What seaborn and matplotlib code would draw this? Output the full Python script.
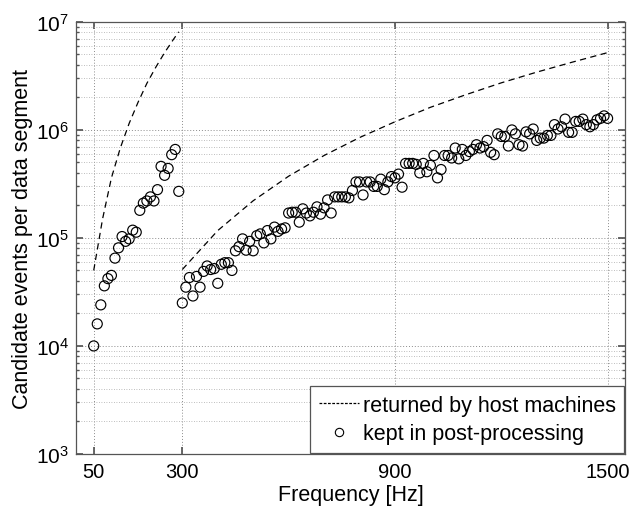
import numpy as np
import pandas as pd
import seaborn as sns
from matplotlib import pyplot as plt
from matplotlib.lines import Line2D
from matplotlib.ticker import LogLocator, FixedLocator, NullFormatter

sns.set_theme(style="ticks")
plt.rcParams['font.family'] = ['Liberation Sans', 'DejaVu Sans']
plt.rcParams['mathtext.fontset'] = 'custom'
plt.rcParams['mathtext.rm'] = 'Liberation Sans'
plt.rcParams['text.color'] = 'black'
plt.rcParams['axes.labelcolor'] = 'black'

# dashed curves: returned by host machines (two bands)
lowFreq = [50, 75, 100, 125, 150, 175, 200, 225, 250, 275, 290]
lowReturned = [5.0e4, 1.5e5, 3.6e5, 6.8e5, 1.15e6, 1.8e6, 2.7e6, 3.8e6, 5.2e6, 6.9e6, 8.1e6]
highFreq = [300, 400, 500, 600, 700, 800, 900, 1000, 1100, 1200, 1300, 1400, 1500]
highReturned = [5.1e4, 1.17e5, 2.21e5, 3.73e5, 5.8e5, 8.5e5, 1.19e6, 1.62e6, 2.12e6,
                2.73e6, 3.43e6, 4.24e6, 5.2e6]

# circles: kept in post-processing
lowKeptFreq = list(range(50, 300, 10))
lowKept = [1.0e4, 1.6e4, 2.4e4, 3.6e4, 4.2e4, 4.5e4, 6.5e4, 8.1e4, 1.03e5, 9.3e4,
           9.8e4, 1.18e5, 1.13e5, 1.8e5, 2.1e5, 2.2e5, 2.4e5, 2.2e5, 2.8e5, 4.6e5,
           3.8e5, 4.4e5, 5.9e5, 6.6e5, 2.7e5]
highKeptFreq = list(range(300, 1510, 10))
highKept = [2.5e4, 3.5e4, 4.3e4, 2.9e4, 4.4e4, 3.5e4, 4.9e4, 5.5e4, 5.1e4, 5.2e4,
            3.8e4, 5.7e4, 5.9e4, 5.9e4, 5.0e4, 7.6e4, 8.3e4, 9.8e4, 7.7e4, 9.3e4,
            7.6e4, 1.05e5, 1.09e5, 9.0e4, 1.17e5, 9.8e4, 1.26e5, 1.15e5, 1.21e5, 1.24e5,
            1.7e5, 1.73e5, 1.73e5, 1.4e5, 1.86e5, 1.7e5, 1.6e5, 1.73e5, 1.94e5, 1.66e5,
            1.9e5, 2.25e5, 1.7e5, 2.4e5, 2.4e5, 2.4e5, 2.4e5, 2.35e5, 2.75e5, 3.3e5,
            3.3e5, 2.5e5, 3.3e5, 3.3e5, 3.0e5, 3.0e5, 3.5e5, 2.8e5, 3.3e5, 3.7e5,
            3.6e5, 3.9e5, 2.95e5, 4.9e5, 4.9e5, 4.9e5, 4.8e5, 4.0e5, 4.9e5, 4.1e5,
            4.7e5, 5.8e5, 3.6e5, 4.3e5, 5.8e5, 5.8e5, 5.5e5, 6.8e5, 5.4e5, 6.6e5,
            5.8e5, 6.3e5, 6.6e5, 7.3e5, 6.8e5, 7.0e5, 8.0e5, 6.2e5, 5.9e5, 9.2e5,
            8.7e5, 8.7e5, 7.1e5, 1.0e6, 9.2e5, 7.3e5, 7.1e5, 9.6e5, 9.2e5, 1.02e6,
            8.0e5, 8.4e5, 8.4e5, 8.9e5, 8.9e5, 1.12e6, 1.02e6, 1.07e6, 1.26e6, 9.5e5,
            9.5e5, 1.2e6, 1.2e6, 1.26e6, 1.12e6, 1.07e6, 1.12e6, 1.24e6, 1.28e6, 1.35e6,
            1.28e6]

xTicks = [50, 300, 900, 1500]

keptDF = pd.DataFrame({
    'Frequency': lowKeptFreq + highKeptFreq,
    'Kept': lowKept + highKept,
})

fig = plt.figure(figsize=(6.44, 5.10), dpi=100)
ax = fig.add_axes([0.118, 0.108, 0.853, 0.847])

dashStyle = (0, (5, 3.5))
sns.lineplot(x=lowFreq, y=lowReturned, ax=ax, color='black', lw=0.9, linestyle=dashStyle)
sns.lineplot(x=highFreq, y=highReturned, ax=ax, color='black', lw=0.9, linestyle=dashStyle)
sns.scatterplot(data=keptDF, x='Frequency', y='Kept', ax=ax, marker='o', s=52,
                facecolors='none', edgecolor='black', linewidth=0.85, zorder=3)

ax.set_yscale('log')
ax.set_xlim(0, 1550)
ax.set_ylim(1e3, 1e7)
ax.xaxis.set_major_locator(FixedLocator(xTicks))
ax.set_xticklabels([str(t) for t in xTicks])
ax.yaxis.set_major_locator(LogLocator(base=10, numticks=10))
ax.yaxis.set_minor_locator(LogLocator(base=10, subs=np.arange(2, 10), numticks=20))
ax.yaxis.set_minor_formatter(NullFormatter())

ax.grid(True, which='major', axis='both', linestyle=(0, (1, 2)), color='#8c8c8c', lw=0.7)
ax.grid(True, which='minor', axis='y', linestyle=(0, (1, 2)), color='#a8a8a8', lw=0.6)

for s in ax.spines.values():
    s.set_visible(True)
    s.set_color('#555555')
    s.set_linewidth(0.9)
ax.tick_params(which='both', direction='in', top=True, right=True, colors='#555555',
               labelcolor='black')
ax.tick_params(which='major', length=5)
ax.tick_params(which='minor', length=2.5)
ax.tick_params(axis='x', labelsize=14.5, pad=6)
ax.tick_params(axis='y', labelsize=15, pad=5)

ax.set_xlabel('Frequency [Hz]', fontsize=15.5, labelpad=2)
ax.set_ylabel('Candidate events per data segment', fontsize=15.5, labelpad=2)

handles = [Line2D([], [], color='black', lw=0.9, linestyle=(0, (2.2, 1.2))),
           Line2D([], [], color='black', marker='o', linestyle='none', markersize=6,
                  markerfacecolor='none', markeredgewidth=0.8)]
leg = ax.legend(handles, ['returned by host machines', 'kept in post-processing'],
                loc='lower right', fontsize=15.5, frameon=True, fancybox=False,
                handlelength=1.9, handletextpad=0.15, borderpad=0.4, labelspacing=0.35,
                borderaxespad=0.05)
leg.get_frame().set_edgecolor('#555555')
leg.get_frame().set_linewidth(0.9)
leg.get_frame().set_alpha(1)

plt.savefig('out.png', dpi=100)
plt.close()
